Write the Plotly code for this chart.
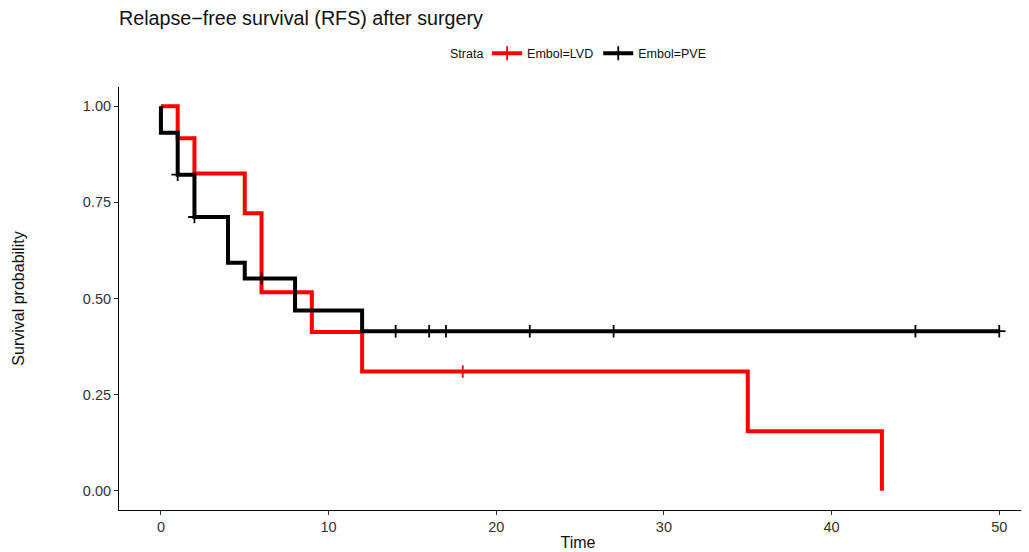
import plotly.graph_objects as go

# Kaplan-Meier step data
lvd_time = [0, 1, 2, 5, 6, 9, 12, 35, 43]
lvd_surv = [1.0, 0.917, 0.825, 0.722, 0.516, 0.413, 0.310, 0.155, 0.0]
lvd_cens_time = [18]
lvd_cens_surv = [0.310]

pve_time = [0, 0, 1, 2, 4, 5, 8, 12, 50]
pve_surv = [1.0, 0.931, 0.822, 0.712, 0.593, 0.552, 0.469, 0.415, 0.415]
pve_cens_time = [1, 2, 6, 14, 16, 17, 22, 27, 45, 50]
pve_cens_surv = [0.822, 0.712, 0.552, 0.415, 0.415, 0.415, 0.415, 0.415, 0.415, 0.415]

x_ticks = [0, 10, 20, 30, 40, 50]
y_ticks = [0.0, 0.25, 0.5, 0.75, 1.0]
y_tick_labels = ["0.00", "0.25", "0.50", "0.75", "1.00"]

RED = "#FF0000"
BLACK = "#000000"
FONT = "Liberation Sans, Arial, sans-serif"

fig = go.Figure()

groups = [
    ("Embol=LVD", RED, lvd_time, lvd_surv, lvd_cens_time, lvd_cens_surv),
    ("Embol=PVE", BLACK, pve_time, pve_surv, pve_cens_time, pve_cens_surv),
]

for name, col, t, s, ct, cs in groups:
    fig.add_trace(go.Scatter(
        x=t, y=s, mode="lines", line=dict(color=col, width=4, shape="hv"),
        showlegend=False, hoverinfo="skip"))
    fig.add_trace(go.Scatter(
        x=ct, y=cs, mode="markers",
        marker=dict(symbol="cross-thin", size=9, line=dict(color=col, width=1.8)),
        showlegend=False, hoverinfo="skip"))

# legend-only entries (line with censor cross)
for name, col, *_ in groups:
    fig.add_trace(go.Scatter(
        x=[None], y=[None], mode="lines+markers", name=name,
        line=dict(color=col, width=4),
        marker=dict(symbol="cross-thin", size=10, line=dict(color=col, width=1.8))))

fig.update_layout(
    width=1029, height=552,
    paper_bgcolor="white", plot_bgcolor="white",
    margin=dict(l=111, r=0, t=79, b=50),
    font=dict(family=FONT, color="#222222"),
    title=dict(text="Relapse\u2212free survival (RFS) after surgery",
               x=0, xref="paper", xanchor="left",
               y=1 - 10 / 552, yref="container", yanchor="middle",
               font=dict(size=19.7, color="#111111")),
    legend=dict(orientation="h", x=0.523, xanchor="center", xref="paper",
                y=1.0787, yanchor="middle",
                font=dict(size=12.5, color="#111111"),
                itemwidth=30, bgcolor="rgba(0,0,0,0)"),
    annotations=[dict(text="Strata", x=0.399, xref="paper", xanchor="right",
                      y=1.0787, yref="paper", yanchor="middle", showarrow=False,
                      font=dict(size=12.5, color="#111111"))],
    xaxis=dict(range=[-2.5, 52.25], tickvals=x_ticks, showgrid=False, zeroline=False,
               showline=True, linecolor="black", linewidth=1,
               ticks="outside", ticklen=4, tickcolor="#333333",
               tickfont=dict(size=14.5, color="#333333"),
               title=dict(text="Time", font=dict(size=16, color="#111111"), standoff=2),
               automargin=False),
    yaxis=dict(range=[-0.05, 1.05], tickvals=y_ticks, ticktext=y_tick_labels,
               showgrid=False, zeroline=False,
               showline=True, linecolor="black", linewidth=1,
               ticks="outside", ticklen=4, tickcolor="#333333",
               tickfont=dict(size=14.5, color="#333333"),
               title=dict(text="Survival probability", font=dict(size=16, color="#111111"),
                          standoff=54),
               automargin=False),
)

fig.write_html("out.html")
